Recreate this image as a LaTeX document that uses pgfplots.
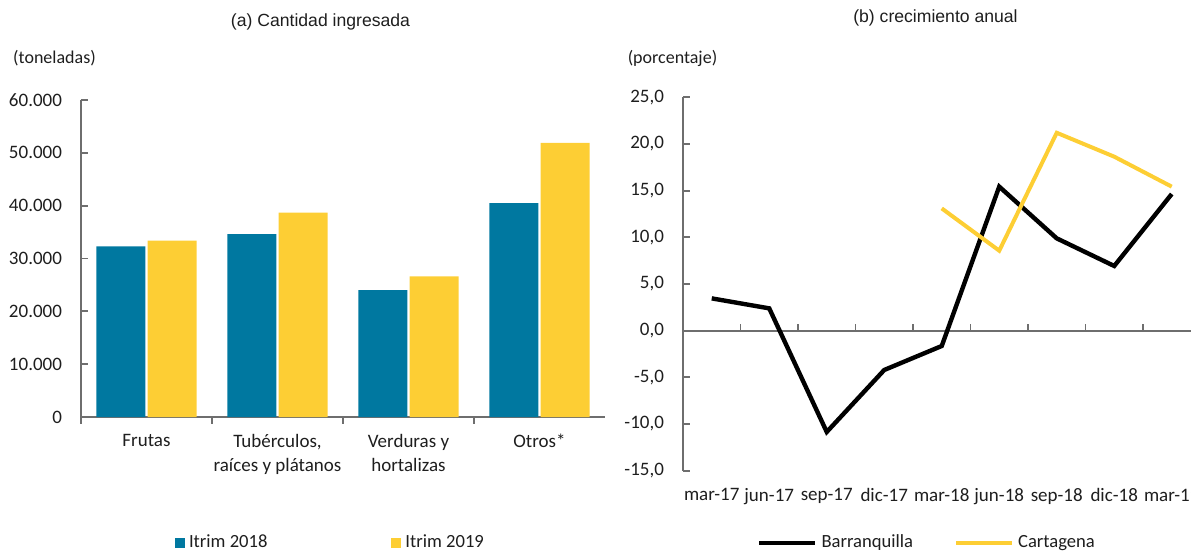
\documentclass[border=0pt]{standalone}
\usepackage{pgfplots}
\pgfplotsset{compat=1.18}
\usepackage{fontspec}
\setmainfont{Carlito}
\newfontfamily\arialf{Liberation Sans}
\definecolor{barblue}{RGB}{0,120,160}
\definecolor{baryel}{RGB}{253,206,52}
\definecolor{axgray}{RGB}{110,110,110}
\definecolor{txt}{RGB}{30,30,30}
\begin{document}
\begin{tikzpicture}
\useasboundingbox (0,0) rectangle (595.5pt,276.5pt);
\clip (0,0) rectangle (595.5pt,276.5pt);
\node[font=\arialf\fontsize{8.8}{10}\selectfont, text=txt] at (160.25pt,265.5pt) {(a) Cantidad ingresada};
\node[font=\arialf\fontsize{8.8}{10}\selectfont, text=txt] at (467.75pt,267.5pt) {(b) crecimiento anual};
\node[font=\fontsize{9}{10}\selectfont, text=txt] at (27.25pt,247.5pt) {(toneladas)};
\node[font=\fontsize{9}{10}\selectfont, text=txt] at (336.25pt,247.5pt) {(porcentaje)};

\begin{axis}[
  at={(40.5pt,68pt)}, anchor=south west,
  scale only axis, width=262pt, height=158.5pt,
  xmin=-0.5, xmax=3.5, ymin=0, ymax=60000,
  clip=false,
  axis x line*=bottom, axis y line*=left,
  axis line style={axgray, line width=0.9pt},
  tick align=inside, major tick length=3.5pt,
  tick style={axgray, line width=0.9pt},
  xtick={0,1,2,3}, xtick style={draw=none},
  xticklabels={Frutas,{Tubérculos,\\raíces y plátanos},{Verduras y\\hortalizas},Otros*},
  xticklabel style={align=center, font=\fontsize{9.5}{12}\selectfont, text=txt, yshift=-5pt},
  ytick={0,10000,...,60000},
  scaled y ticks=false,
  /pgf/number format/1000 sep={.},
  /pgf/number format/assume math mode=true,
  yticklabel style={font=\fontsize{9.5}{11}\selectfont, text=txt, xshift=-6pt},
  legend columns=2,
  legend style={at={(0.478,-0.397)}, anchor=center, draw=none, fill=none,
    font=\fontsize{9.3}{11}\selectfont, text=txt,
    /tikz/every even column/.append style={column sep=60pt},
    nodes={inner xsep=2pt, inner ysep=0pt}},
  legend cell align=left,
]
\addplot[ybar, bar width=24.5pt, bar shift=-12.8pt, fill=barblue, draw=none,
  legend image code/.code={\fill[barblue] (0pt,-2.5pt) rectangle (5pt,2.5pt);}]
  coordinates {(0,32300) (1,34600) (2,24000) (3,40500)};
\addplot[ybar, bar width=24.5pt, bar shift=12.8pt, fill=baryel, draw=none,
  legend image code/.code={\fill[baryel] (0pt,-2.5pt) rectangle (5pt,2.5pt);}]
  coordinates {(0,33400) (1,38700) (2,26600) (3,51900)};
\legend{Itrim 2018, Itrim 2019}
\pgfplotsinvokeforeach{-0.5,0.5,1.5,2.5}{
  \draw[axgray, line width=0.9pt] (axis cs:#1,0) -- ++(0pt,-3.5pt);
}
\end{axis}

\begin{axis}[
  at={(341.5pt,41.15pt)}, anchor=south west,
  scale only axis, width=258.75pt, height=186.7pt,
  xmin=-0.5, xmax=8.5, ymin=-15, ymax=25,
  clip=false,
  axis x line*=bottom, axis y line*=left,
  x axis line style={draw=none},
  y axis line style={axgray, line width=0.9pt},
  tick align=inside, major tick length=3.5pt,
  tick style={axgray, line width=0.9pt},
  xtick={0,...,8}, xtick style={draw=none},
  xticklabels={mar-17,jun-17,sep-17,dic-17,mar-18,jun-18,sep-18,dic-18,mar-19},
  xticklabel style={font=\fontsize{9.5}{11}\selectfont, text=txt, yshift=-5.5pt},
  ytick={-15,-10,...,25},
  /pgf/number format/.cd, fixed, fixed zerofill, precision=1, use comma, assume math mode=true,
  /pgfplots/.cd,
  yticklabel style={font=\fontsize{9.5}{11}\selectfont, text=txt, xshift=-6pt},
  legend columns=2,
  legend style={at={(0.4735,-0.1936)}, anchor=center, draw=none, fill=none,
    font=\fontsize{9.3}{11}\selectfont, text=txt,
    /tikz/every even column/.append style={column sep=18.5pt},
    nodes={inner xsep=2pt, inner ysep=0pt}},
  legend cell align=left,
  legend image code/.code={\draw[#1] (0pt,0pt) -- (28pt,0pt);},
]
\draw[axgray, line width=0.9pt] (axis cs:-0.5,0) -- (axis cs:8.5,0);
\pgfplotsinvokeforeach{0.5,1.5,2.5,3.5,4.5,5.5,6.5,7.5}{
  \draw[axgray, line width=0.9pt] (axis cs:#1,0) -- ++(0pt,3.5pt);
}
\addplot[black, line width=2.2pt] coordinates {(0,3.46) (1,2.39) (2,-10.85) (3,-4.21) (4,-1.64) (5,15.43) (6,9.89) (7,6.93) (8,14.64)};
\addplot[baryel, line width=2pt] coordinates {(4,13.1) (5,8.57) (6,21.2) (7,18.64) (8,15.43)};
\legend{Barranquilla, Cartagena}
\end{axis}
\end{tikzpicture}
\end{document}
